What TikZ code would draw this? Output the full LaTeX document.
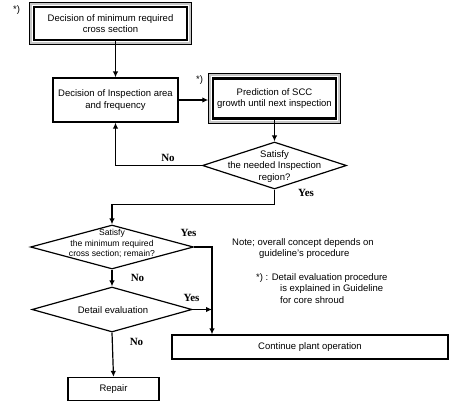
\documentclass[tikz,border=0pt]{standalone}
\usepackage{fontspec}
\setmainfont{Liberation Sans}
\newfontfamily\serifbold{Liberation Serif}
\usetikzlibrary{shapes.geometric,arrows.meta}

\tikzset{
  box/.style={draw, line width=1.2pt, align=center, font=\fontsize{9.5}{11.5}\selectfont, inner sep=0pt},
  mainbox/.style={box, line width=2.4pt},
  dia/.style={diamond, draw, line width=1.2pt, inner sep=0pt, aspect=3},
  dtext/.style={align=center, inner sep=0pt, font=\fontsize{9.5}{11.5}\selectfont},
  stext/.style={align=center, inner sep=0pt, font=\fontsize{8.6}{10.5}\selectfont},
  ans/.style={font=\serifbold\bfseries\fontsize{11}{13}\selectfont, inner sep=0pt},
  note/.style={anchor=west, inner sep=0pt, font=\fontsize{9.5}{11.5}\selectfont},
  flow/.style={-{Latex[length=6pt,width=5.5pt]}, line width=1.2pt},
}

\begin{document}
\begin{tikzpicture}[x=1pt,y=-1pt]
  \useasboundingbox (0,0) rectangle (450,402);
  % boxes
  \node[mainbox, minimum width=153, minimum height=33] (b1) at (110.5,23.5) {Decision of minimum required\\cross section};
  \node[box, minimum width=125, minimum height=44] (b2) at (115.5,100) {Decision of Inspection area\\and frequency};
  \node[mainbox, minimum width=123, minimum height=40] (b3) at (274.5,98.5) {Prediction of SCC\\growth until next inspection};
  \node[box, minimum width=276, minimum height=24] (cont) at (310,347) {Continue plant operation};
  \node[box, minimum width=91, minimum height=23] (rep) at (113.5,389) {Repair};
  % double frames
  \foreach \b in {b1,b3}{
    \draw[gray!45, line width=1.9pt] ([shift={(-2.15,-2.15)}]\b.north west) rectangle ([shift={(2.15,2.15)}]\b.south east);
    \draw[line width=0.8pt] ([shift={(-3.5,-3.5)}]\b.north west) rectangle ([shift={(3.5,3.5)}]\b.south east);
  }
  \node[note] (s1) at (13,10) {*)};
  \node[note] (s2) at (196,80) {*)};
  % decisions
  \node[dia, minimum width=144, minimum height=47] (d1) at (274.5,165.5) {};
  \node[dtext] (t1) at (274.5,166.5) {Satisfy\\the needed Inspection\\region?};
  \node[dia, minimum width=163, minimum height=44] (d2) at (112,247) {};
  \node[stext] (t2) at (112,243.5) {Satisfy\\the minimum required\\cross section; remain?};
  \node[dia, minimum width=160, minimum height=45] (d3) at (112,309.5) {};
  \node[dtext] (t3) at (113,310) {Detail evaluation};
  % answers
  \node[ans] (no1) at (168,158) {No};
  \node[ans] (yes1) at (306,193) {Yes};
  \node[ans] (yes2) at (188.5,233) {Yes};
  \node[ans] (no2) at (137.5,278) {No};
  \node[ans] (yes3) at (191.5,298) {Yes};
  \node[ans] (no3) at (136.5,342) {No};
  % note
  \node[note] (n1) at (232,243) {Note; overall concept depends on};
  \node[note] (n2) at (259,254) {guideline's procedure};
  \node[note] (n3) at (256,278) {*) : Detail evaluation procedure};
  \node[note] (n4) at (280,289) {is explained in Guideline};
  \node[note] (n5) at (280,300) {for core shroud};
  % connectors
  \coordinate (yl) at (212,247);
  \draw[flow] (b1.south -| b2.north) -- (b2.north);
  \draw[flow, shorten >=3.5pt] (b2.east) -- (b2.east -| b3.west);
  \draw[flow] (b3.south) -- (d1.north);
  \draw[flow] (d1.west) -| (b2.south);
  \draw[flow] (d1.south) -- ++(0,15) -| (d2.north);
  \draw[flow] (d2.east) -- (yl) -- (yl |- cont.north);
  \draw[flow] (d2.south) -- (d3.north);
  \draw[flow] (d3.east) -- (d3.east -| yl);
  \draw[flow] (d3.south) -- (rep.north);
\end{tikzpicture}
\end{document}
